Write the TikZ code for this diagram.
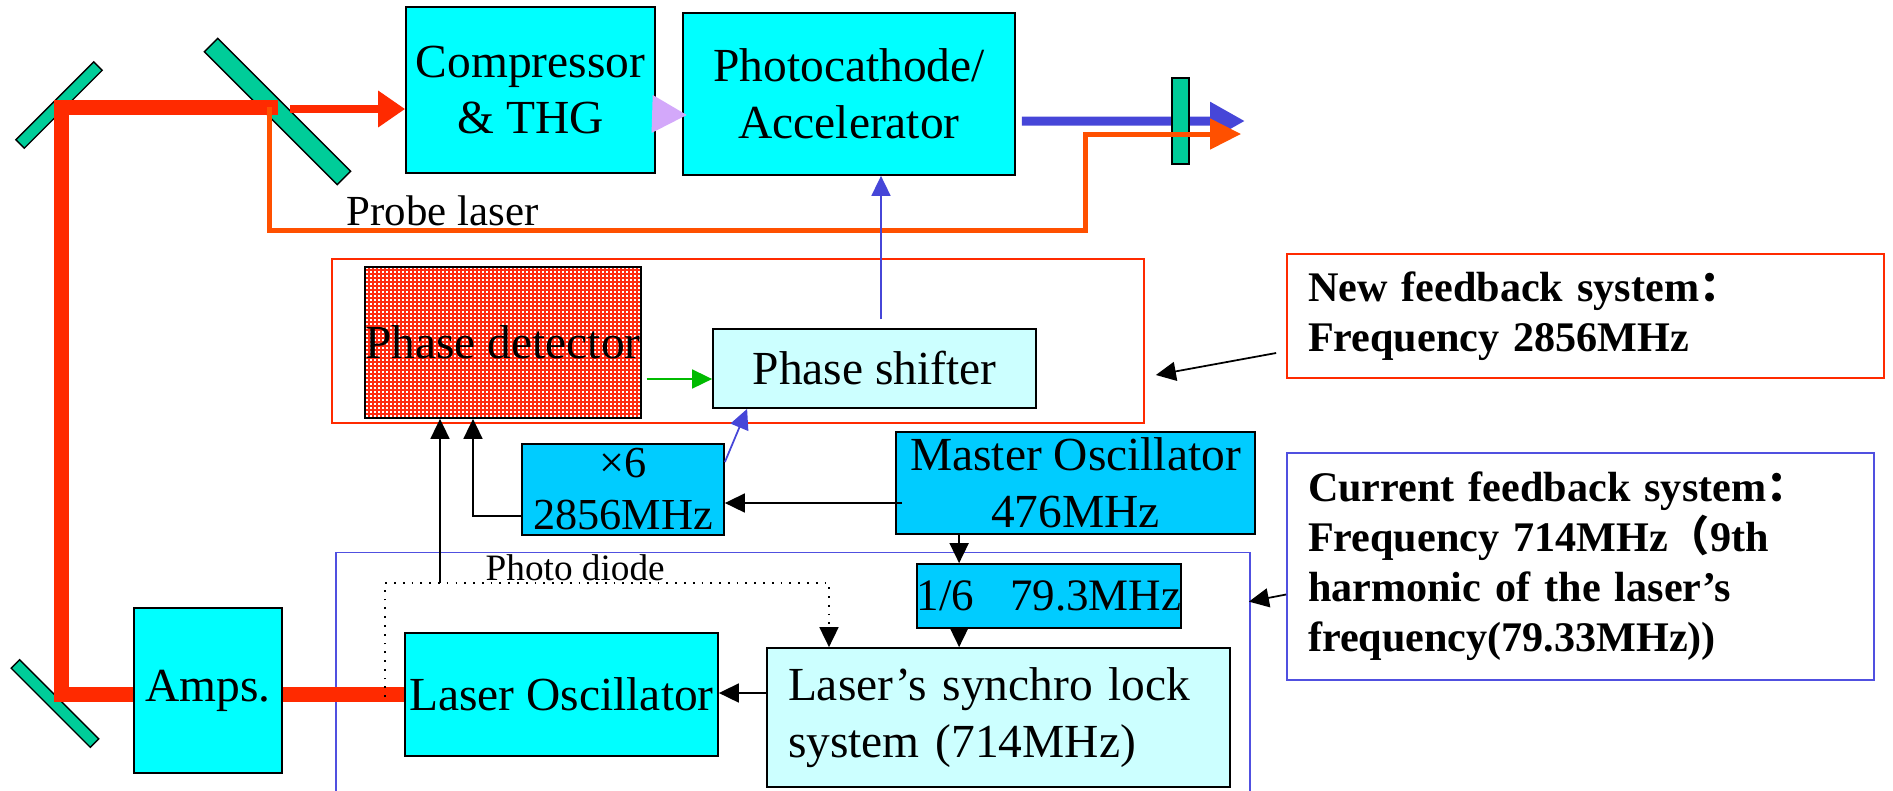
\documentclass[tikz,border=0pt]{standalone}
\usepackage{fontspec}
\setmainfont{Liberation Serif}
\newfontfamily\cjk{Noto Sans CJK SC}
\usetikzlibrary{arrows.meta,positioning,calc,patterns.meta}
\definecolor{cyanbox}{HTML}{00FFFF}
\definecolor{skybox}{HTML}{00CCFF}
\definecolor{palebox}{HTML}{CCFFFF}
\definecolor{mirrorgreen}{HTML}{00CC99}
\definecolor{beamred}{HTML}{FF2A00}
\definecolor{probeorange}{HTML}{FF5000}
\definecolor{eblue}{HTML}{4646D8}
\definecolor{newred}{HTML}{FF2A00}
\definecolor{curblue}{HTML}{5050E0}
\definecolor{lav}{HTML}{D3A8FA}
\definecolor{sigreen}{HTML}{00BB00}
\definecolor{checkred}{HTML}{FF2A10}
\newcommand{\BoxFont}{\fontsize{13.5}{16.2}\selectfont}
\newcommand{\NoteFont}{\fontsize{12}{14.2}\selectfont\bfseries}
\newcommand{\BeamW}{0.15cm}
\tikzdeclarepattern{
  name=finecheck,
  type=uncolored,
  bottom left={(0pt,0pt)},
  top right={(1pt,1pt)},
  tile size={(1pt,1pt)},
  code={
    \fill (0pt,0pt) rectangle (0.62pt,0.62pt);
  }
}

\begin{document}
\begin{tikzpicture}[
    box/.style={draw=black, line width=0.5pt, inner sep=0pt, align=center, font=\BoxFont},
    frame/.style={line width=0.5pt, inner sep=0pt},
    note/.style={line width=0.5pt, inner sep=0pt, align=left, font=\NoteFont},
    label/.style={anchor=base west, inner sep=0pt},
    mirror/.style={draw=black, line width=0.4pt, fill=mirrorgreen, inner sep=0pt},
    beam/.style={draw=beamred, line width=\BeamW, line join=miter},
    beamthin/.style={draw=beamred, line width=0.08cm, -{Triangle[length=0.27cm, width=0.35cm]}},
    probe/.style={draw=probeorange, line width=0.05cm, line join=miter, -{Triangle[length=0.31cm, width=0.30cm]}},
    ebeam/.style={draw=eblue, line width=0.09cm, -{Triangle[length=0.35cm, width=0.36cm]}},
    arr/.style={-{Triangle[length=0.2cm, width=0.19cm]}, line width=0.5pt, draw=black},
    barr/.style={arr, draw=eblue},
    garr/.style={arr, draw=sigreen},
    pdline/.style={arr, dotted},
  ]
\useasboundingbox (0,0) rectangle (18.93,-7.90);

% --- Frames round the two feedback loops ------------------------------------
\node[frame, draw=newred, minimum width=8.12cm, minimum height=1.64cm] (newsys) at (7.38,-3.41) {};
\node[frame, draw=curblue, minimum width=9.14cm, minimum height=2.55cm] (cursys) at (7.93,-6.80) {};

% --- Mirrors -----------------------------------------------------------------
\node[mirror, minimum width=1.10cm, minimum height=0.12cm, rotate=45] (mtop) at (0.59,-1.05) {};
\node[mirror, minimum width=1.88cm, minimum height=0.19cm, rotate=-45] (split) at (2.775,-1.115) {};
\node[mirror, minimum width=1.12cm, minimum height=0.12cm, rotate=-45] (mbot) at (0.55,-7.035) {};

% --- Blocks ------------------------------------------------------------------
\node[box, fill=cyanbox, minimum width=2.49cm, minimum height=1.66cm] (comp) at (5.305,-0.90) {Compressor\\\& THG};
\node[box, fill=cyanbox, minimum width=3.32cm, minimum height=1.62cm] (pcath) at (8.49,-0.94) {Photocathode/\\Accelerator};
\node[box, preaction={fill=checkred}, pattern={finecheck}, pattern color=white, minimum width=2.74cm, minimum height=1.51cm] (pdet) at (5.03,-3.425) {Phase detector};
\node[box, fill=palebox, minimum width=3.23cm, minimum height=0.79cm] (pshift) at (8.745,-3.685) {Phase shifter};
\node[box, fill=skybox, minimum width=2.02cm, minimum height=0.91cm, font=\fontsize{12.6}{14.8}\selectfont] (mult) at (6.23,-4.895) {×6\\2856MHz};
\node[box, fill=skybox, minimum width=3.59cm, minimum height=1.02cm] (mo) at (10.755,-4.83) {Master Oscillator\\476MHz};
\node[box, fill=skybox, minimum width=2.58cm, minimum height=0.64cm, font=\fontsize{12.8}{14}\selectfont] (div) at (10.49,-5.96) {1/6\hspace{0.36cm}79.3MHz};
\node[box, fill=palebox, minimum width=4.63cm, minimum height=1.39cm, align=left, text width=4.21cm] (sync) at (9.985,-7.175) {Laser’s synchro lock\\system (714MHz)};
\node[box, fill=cyanbox, minimum width=3.13cm, minimum height=1.23cm] (losc) at (5.615,-6.945) {Laser Oscillator};
\node[box, fill=cyanbox, minimum width=1.48cm, minimum height=1.65cm] (amps) at (2.08,-6.905) {Amps.};

% --- Notes on the right ------------------------------------------------------
\node[note, draw=newred, minimum width=5.97cm, minimum height=1.24cm, text width=5.55cm] (newnote) at (15.855,-3.16)
  {New feedback system{\cjk ：}\\Frequency 2856MHz};
\node[note, draw=curblue, minimum width=5.87cm, minimum height=2.27cm, text width=5.45cm] (curnote) at (15.805,-5.665)
  {Current feedback system{\cjk ：}\\Frequency 714MHz{\cjk （}9th\\harmonic of the laser’s\\frequency(79.33MHz))};

% --- Laser beam: oscillator, amps, mirrors, splitter ------------------------
\coordinate (bend) at (0.61,-1.07);
\draw[beam] (losc.west) -- (losc.west -| amps.east);
\draw[beam] (losc.west -| amps.west) -| (bend) -- (split.center |- bend);
\coordinate (tx) at (2.90,-1.09);
\draw[beamthin] (tx) -- (tx -| comp.west);
\draw[draw=lav, line width=0.07cm, -{Triangle[length=0.35cm, width=0.36cm]}] ($(comp.east)+(-0.02,-0.24)$) -- ($(pcath.west)+(0.05,-0.21)$);

% --- Electron beam and probe laser out to the right -------------------------
\coordinate (eend) at (12.45,-1.21);
\draw[ebeam] ($(pcath.east)+(0.06,-0.27)$) -- (eend);
\node[mirror, minimum width=0.17cm, minimum height=0.86cm] (mout) at (11.805,-1.21) {};
\coordinate (probe0) at (2.69,-1.07);
\coordinate (probeend) at (12.41,-1.34);
\draw[probe] (probe0) |- (10.85,-2.30) |- (probeend);
\node[label, font=\fontsize{12.2}{14}\selectfont] (probelbl) at (3.46,-2.25) {Probe laser};

% --- New loop: 2856MHz ------------------------------------------------------
\draw[arr] ($(mo.west)+(0.07,-0.20)$) coordinate (q1) -- (q1 -| mult.east);
\draw[arr] ($(mult.west)+(0,-0.265)$) -| ([xshift=-0.30cm]pdet.south);
\draw[barr] ($(mult.east)+(0,0.275)$) -- ($(pshift.south west)+(0.35,0)$);
\draw[garr] ($(pdet.east)+(0.05,-0.365)$) coordinate (q2) -- (q2 -| pshift.west);
\draw[barr] ($(pshift.north)+(0.065,0.09)$) coordinate (q3) -- (q3 |- pcath.south);

% --- Current loop: 714MHz ---------------------------------------------------
\draw[arr] ($(mo.south west)+(0.64,0)$) coordinate (q4) -- (q4 |- div.north);
\draw[arr] (q4 |- div.south) -- (q4 |- sync.north);
\draw[arr] ($(sync.west)+(0,0.245)$) coordinate (q5) -- (q5 -| losc.east);

% --- Photo diode pick-off ---------------------------------------------------
\coordinate (pdstart) at (3.85,-6.97);
\coordinate (pdcorner) at (8.29,-5.83);
\coordinate (pdtap) at (4.40,-5.83);
\draw[pdline] (pdstart) |- (pdcorner) -- (pdcorner |- sync.north);
\draw[arr] (pdtap) -- (pdtap |- pdet.south);
\node[label, font=\fontsize{10.6}{12}\selectfont] (pdlbl) at (4.85,-5.80) {Photo diode};

% --- Pointers from the notes ------------------------------------------------
\draw[arr] ($(newnote.west)+(-0.10,-0.37)$) -- ($(newsys.east)+(0.11,-0.34)$);
\draw[arr] ($(curnote.west)+(0,-0.28)$) -- ($(cursys.north east)+(-0.02,-0.50)$);

\end{tikzpicture}
\end{document}
